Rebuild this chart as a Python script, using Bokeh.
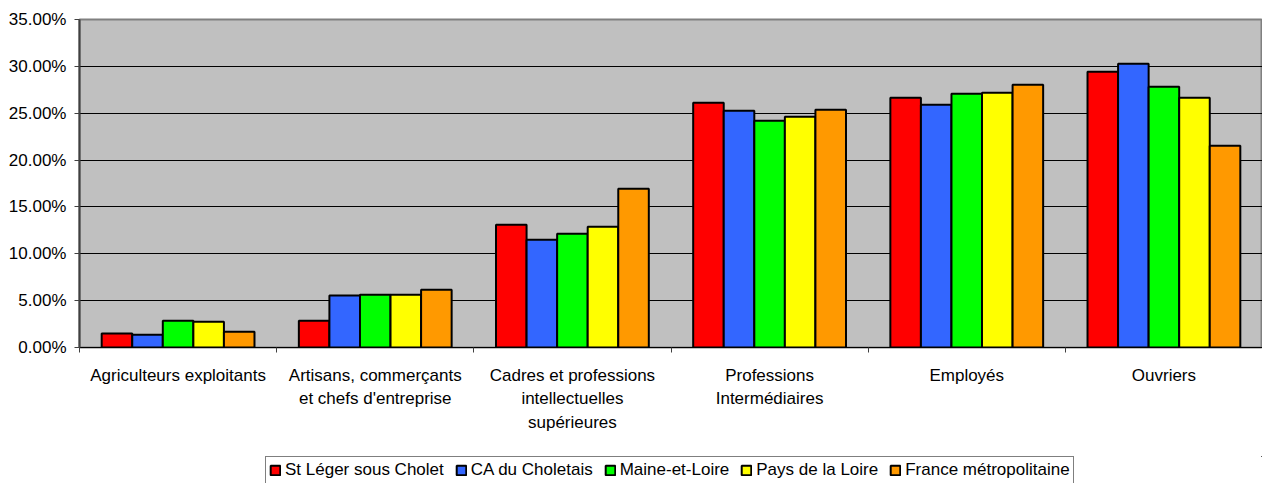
from bokeh.plotting import figure
from bokeh.models import (ColumnDataSource, Range1d, FixedTicker, NumeralTickFormatter,
                          Legend, LegendItem)
from bokeh.layouts import column
from bokeh.transform import dodge
from bokeh.embed import file_html
from bokeh.resources import INLINE

categories = ["Agriculteurs exploitants",
              "Artisans, commerçants\net chefs d'entreprise",
              "Cadres et professions\nintellectuelles\nsupérieures",
              "Professions\nIntermédiaires",
              "Employés",
              "Ouvriers"]
series_names = ["St Léger sous Cholet", "CA du Choletais", "Maine-et-Loire",
                "Pays de la Loire", "France métropolitaine"]
st_leger = [0.0149, 0.0285, 0.1310, 0.2612, 0.2666, 0.2943]
ca_choletais = [0.0136, 0.0555, 0.1150, 0.2527, 0.2591, 0.3029]
maine_et_loire = [0.0285, 0.0563, 0.1214, 0.2420, 0.2708, 0.2783]
pays_de_la_loire = [0.0274, 0.0563, 0.1289, 0.2463, 0.2719, 0.2666]
france_metro = [0.0168, 0.0616, 0.1694, 0.2538, 0.2805, 0.2153]
y_ticks = [0.0, 0.05, 0.10, 0.15, 0.20, 0.25, 0.30, 0.35]

colors = ["#FF0000", "#3366FF", "#00FF00", "#FFFF00", "#FF9900"]
series = [st_leger, ca_choletais, maine_et_loire, pays_de_la_loire, france_metro]

centers = [i + 0.5 for i in range(len(categories))]
data = {"x": centers}
keys = ["s0", "s1", "s2", "s3", "s4"]
for k, s in zip(keys, series):
    data[k] = s
source = ColumnDataSource(data)

FONT = "Liberation Sans"

p = figure(width=1262, height=456, output_backend="svg", toolbar_location=None,
           x_range=Range1d(0, len(categories)), y_range=Range1d(0, 0.35),
           min_border_left=79, min_border_right=0, min_border_top=19, min_border_bottom=109)
p.border_fill_color = "#FFFFFF"
p.background_fill_color = "#C0C0C0"
p.outline_line_color = "#808080"
p.outline_line_width = 2

bw = 0.155
offsets = [-2 * bw, -bw, 0.0, bw, 2 * bw]
for k, c, off in zip(keys, colors, offsets):
    p.vbar(x=dodge("x", off, range=p.x_range), top=k, width=bw, bottom=0,
           source=source, fill_color=c, line_color="#000000", line_width=2)

# x axis
xa = p.xaxis[0]
xa.ticker = FixedTicker(ticks=centers, minor_ticks=list(range(len(categories) + 1)))
xa.major_label_overrides = {c: lab for c, lab in zip(centers, categories)}
xa.major_tick_out = 0
xa.major_tick_in = 0
xa.minor_tick_out = 5
xa.minor_tick_in = 0
xa.minor_tick_line_color = "#404040"
xa.axis_line_color = "#000000"
xa.major_label_standoff = 13
xa.major_label_text_font = FONT
xa.major_label_text_font_size = "17px"
xa.major_label_text_color = "#000000"
xa.major_label_text_line_height = 1.24

# y axis
ya = p.yaxis[0]
ya.ticker = FixedTicker(ticks=y_ticks)
ya.formatter = NumeralTickFormatter(format="0.00%")
ya.major_tick_out = 5
ya.major_tick_in = 0
ya.minor_tick_out = 0
ya.minor_tick_in = 0
ya.major_tick_line_color = "#404040"
ya.axis_line_color = "#404040"
ya.axis_line_width = 2
ya.major_label_standoff = 8
ya.major_label_text_font = FONT
ya.major_label_text_font_size = "17px"
ya.major_label_text_color = "#000000"

p.xgrid.visible = False
p.ygrid.ticker = FixedTicker(ticks=y_ticks)
p.ygrid.grid_line_color = "#000000"
p.ygrid.grid_line_width = 1

# legend strip (separate small figure; its swatch renderers sit outside its view)
p2 = figure(width=1262, height=27, output_backend="svg", toolbar_location=None,
            x_range=Range1d(0, 1), y_range=Range1d(0, 1),
            x_axis_location=None, y_axis_location=None, min_border=0)
p2.outline_line_color = None
p2.background_fill_color = "#FFFFFF"
p2.border_fill_color = "#FFFFFF"
p2.grid.visible = False
swatches = []
for c in colors:
    swatches.append(p2.vbar(x=[5], top=[5], bottom=[4], width=0.1, fill_color=c,
                            line_color="#000000", line_width=2))

legend = Legend(items=[LegendItem(label=n, renderers=[r]) for n, r in zip(series_names, swatches)],
                orientation="horizontal", location=(186, -1))
legend.glyph_width = 12
legend.glyph_height = 12
legend.label_standoff = 4
legend.spacing = 11
legend.padding = 3
legend.margin = 0
legend.label_height = 20
legend.label_text_font = FONT
legend.label_text_font_size = "17px"
legend.label_text_color = "#000000"
legend.border_line_color = "#000000"
legend.border_line_width = 1
legend.background_fill_color = "#FFFFFF"
legend.background_fill_alpha = 1.0
p2.add_layout(legend)

layout = column(p, p2, spacing=0)
open("out.html", "w").write(file_html(layout, INLINE))
